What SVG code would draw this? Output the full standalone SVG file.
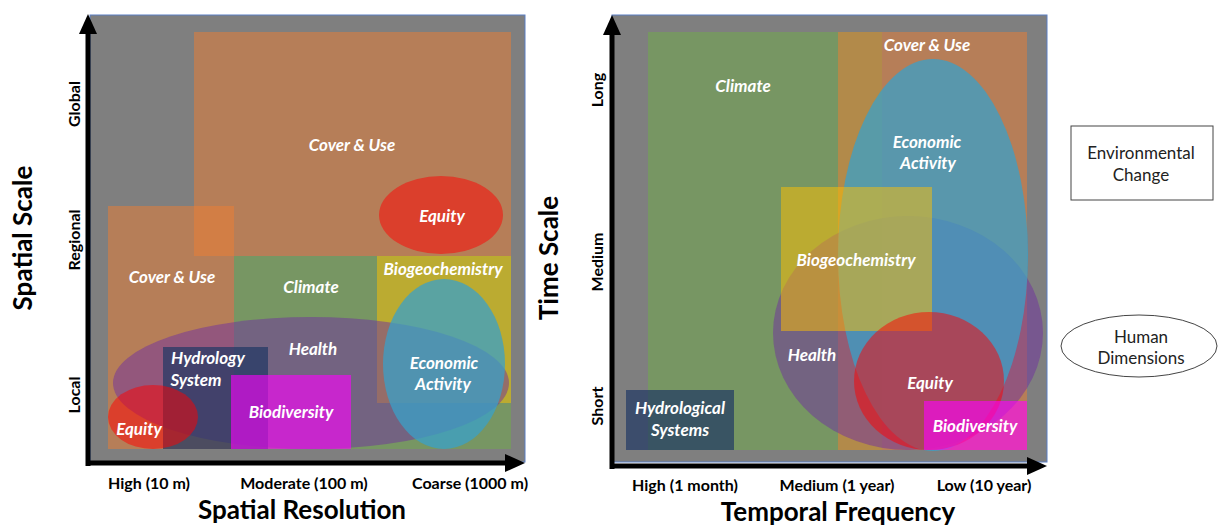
<svg xmlns="http://www.w3.org/2000/svg" width="1218" height="527" viewBox="0 0 1218 527">
  <style>
    .panel { fill: #7f7f7f; stroke: #5b7fc4; stroke-width: 1; }
    .axis { stroke: #000; stroke-width: 5; fill: none; }
    .lbl { font-family: Lato, "Open Sans", sans-serif; font-weight: bold; font-style: italic; font-size: 17px; fill: #fff; text-anchor: middle; }
    .tick { font-family: Lato, "Open Sans", sans-serif; font-weight: bold; font-size: 16px; fill: #000; text-anchor: middle; }
    .title { font-family: Lato, "Open Sans", sans-serif; font-weight: bold; font-size: 26px; fill: #000; text-anchor: middle; }
    .legend { font-family: Lato, "Open Sans", sans-serif; font-size: 17px; fill: #222; text-anchor: middle; }
    .cover { fill: #ed7d31; fill-opacity: 0.5; }
    .climate { fill: #70ad47; fill-opacity: 0.5; }
    .biogeo { fill: #ffc000; fill-opacity: 0.5; }
    .health { fill: #7030a0; fill-opacity: 0.5; }
    .hydro { fill: #203864; fill-opacity: 0.7; }
    .biodiv { fill: #ff00ff; fill-opacity: 0.6; }
    .equity { fill: #ff0000; fill-opacity: 0.5; }
    .econ { fill: #3aa0c8; fill-opacity: 0.75; }
  </style>
  <defs>
    <marker id="arrowhead" viewBox="0 0 20 18" refX="0" refY="9" markerWidth="20" markerHeight="18" markerUnits="userSpaceOnUse" orient="auto">
      <path d="M0,0 L20,9 L0,18 Z" fill="#000"/>
    </marker>
  </defs>
  <rect width="1218" height="527" fill="#fff"/>

  <!-- Left panel: spatial scale vs spatial resolution -->
  <g id="spatial-panel">
    <rect class="panel" x="90" y="15" width="435" height="447"/>
  </g>
  <g id="spatial-cover-use-global">
    <rect class="cover" x="194" y="32" width="317" height="224"/>
    <text class="lbl" x="352" y="151">Cover &amp; Use</text>
  </g>
  <g id="spatial-cover-use-regional">
    <rect class="cover" x="108" y="206" width="126" height="243"/>
    <text class="lbl" x="172" y="283">Cover &amp; Use</text>
  </g>
  <g id="spatial-climate">
    <rect class="climate" x="234" y="256" width="277" height="193"/>
    <text class="lbl" x="311" y="293">Climate</text>
  </g>
  <g id="spatial-biogeochemistry">
    <rect class="biogeo" x="377" y="256" width="134" height="147"/>
    <text class="lbl" x="443" y="275">Biogeochemistry</text>
  </g>
  <g id="spatial-health">
    <ellipse class="health" cx="311" cy="383" rx="198" ry="66"/>
    <text class="lbl" x="313" y="355">Health</text>
  </g>
  <g id="spatial-hydrology">
    <rect class="hydro" x="163" y="347" width="105" height="102"/>
    <text class="lbl" x="208" y="364">Hydrology</text>
    <text class="lbl" x="196" y="386">System</text>
  </g>
  <g id="spatial-biodiversity">
    <rect class="biodiv" x="231" y="375" width="120" height="74"/>
    <text class="lbl" x="291" y="418">Biodiversity</text>
  </g>
  <g id="spatial-equity-local">
    <ellipse class="equity" cx="153" cy="417" rx="45" ry="32"/>
    <text class="lbl" x="139" y="435">Equity</text>
  </g>
  <g id="spatial-economic-activity">
    <ellipse class="econ" cx="444" cy="364" rx="61" ry="85"/>
    <text class="lbl" x="444" y="369">Economic</text>
    <text class="lbl" x="443" y="390">Activity</text>
  </g>
  <g id="spatial-equity-regional">
    <ellipse class="equity" cx="441" cy="215" rx="62" ry="39"/>
    <text class="lbl" x="442" y="222">Equity</text>
  </g>

  <!-- Right panel: time scale vs temporal frequency -->
  <g id="temporal-panel">
    <rect class="panel" x="612" y="15" width="435" height="447"/>
  </g>
  <g id="temporal-climate">
    <rect class="climate" x="648" y="32" width="234" height="418"/>
    <text class="lbl" x="743" y="92">Climate</text>
  </g>
  <g id="temporal-cover-use">
    <rect class="cover" x="838" y="32" width="189" height="418"/>
    <text class="lbl" x="927" y="51">Cover &amp; Use</text>
  </g>
  <g id="temporal-health">
    <ellipse class="health" cx="908" cy="333" rx="135" ry="117"/>
    <text class="lbl" x="812" y="361">Health</text>
  </g>
  <g id="temporal-economic-activity">
    <ellipse class="econ" cx="933" cy="255" rx="95" ry="196"/>
    <text class="lbl" x="927" y="148">Economic</text>
    <text class="lbl" x="928" y="169">Activity</text>
  </g>
  <g id="temporal-biogeochemistry">
    <rect class="biogeo" x="781" y="187" width="151" height="144"/>
    <text class="lbl" x="856" y="266">Biogeochemistry</text>
  </g>
  <g id="temporal-equity">
    <ellipse class="equity" cx="929" cy="381" rx="75" ry="69"/>
    <text class="lbl" x="930" y="389">Equity</text>
  </g>
  <g id="temporal-biodiversity">
    <rect class="biodiv" x="924" y="401" width="103" height="49"/>
    <text class="lbl" x="975" y="432">Biodiversity</text>
  </g>
  <g id="temporal-hydrological-systems">
    <rect class="hydro" x="626" y="390" width="108" height="60"/>
    <text class="lbl" x="680" y="414">Hydrological</text>
    <text class="lbl" x="680" y="436">Systems</text>
  </g>

  <!-- Axes -->
  <g id="connectors">
    <line class="axis" x1="88" y1="466" x2="88" y2="34" marker-end="url(#arrowhead)"/>
    <line class="axis" x1="86" y1="463" x2="505" y2="463" marker-end="url(#arrowhead)"/>
    <line class="axis" x1="612" y1="469" x2="612" y2="35" marker-end="url(#arrowhead)"/>
    <line class="axis" x1="610" y1="466" x2="1027" y2="466" marker-end="url(#arrowhead)"/>
  </g>

  <!-- Axis ticks and titles -->
  <g id="spatial-axis-labels">
    <text class="tick" transform="translate(80,104) rotate(-90)">Global</text>
    <text class="tick" transform="translate(80,240) rotate(-90)">Regional</text>
    <text class="tick" transform="translate(80,395) rotate(-90)">Local</text>
    <text class="title" transform="translate(32,238) rotate(-90)">Spatial Scale</text>
    <text class="tick" x="149" y="489">High (10 m)</text>
    <text class="tick" x="304" y="489">Moderate (100 m)</text>
    <text class="tick" x="470" y="489">Coarse (1000 m)</text>
    <text class="title" x="302" y="519">Spatial Resolution</text>
  </g>
  <g id="temporal-axis-labels">
    <text class="tick" transform="translate(603,90) rotate(-90)">Long</text>
    <text class="tick" transform="translate(603,262) rotate(-90)">Medium</text>
    <text class="tick" transform="translate(603,406) rotate(-90)">Short</text>
    <text class="title" transform="translate(558,258) rotate(-90)">Time Scale</text>
    <text class="tick" x="685" y="491">High (1 month)</text>
    <text class="tick" x="837" y="491">Medium (1 year)</text>
    <text class="tick" x="984" y="491">Low (10 year)</text>
    <text class="title" x="838" y="521">Temporal Frequency</text>
  </g>

  <!-- Legend -->
  <g id="legend-environmental-change">
    <rect x="1071" y="126" width="142" height="74" fill="#fff" stroke="#444" stroke-width="1"/>
    <text class="legend" x="1141" y="159">Environmental</text>
    <text class="legend" x="1141" y="181">Change</text>
  </g>
  <g id="legend-human-dimensions">
    <ellipse cx="1139" cy="346" rx="78" ry="31" fill="#fff" stroke="#444" stroke-width="1"/>
    <text class="legend" x="1141" y="343">Human</text>
    <text class="legend" x="1141" y="364">Dimensions</text>
  </g>
</svg>
